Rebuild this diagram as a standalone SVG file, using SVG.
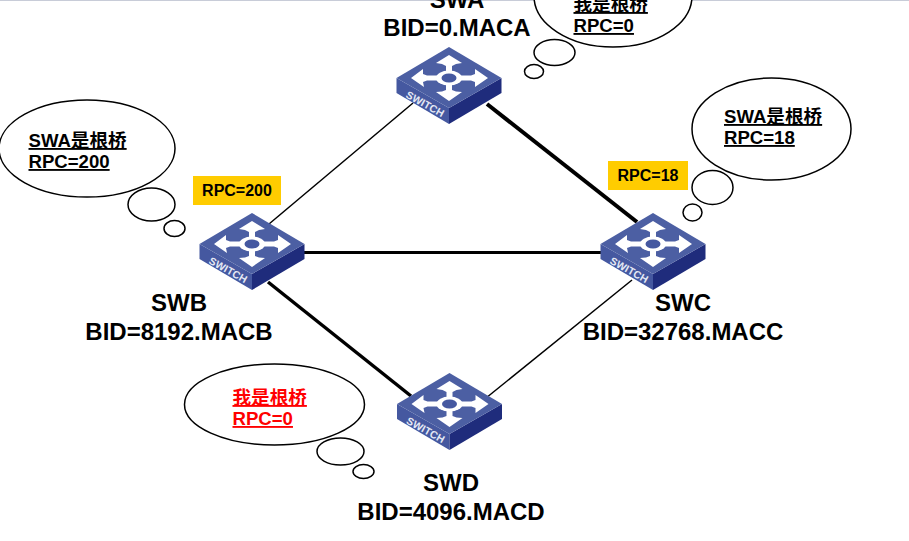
<svg xmlns="http://www.w3.org/2000/svg" xmlns:xlink="http://www.w3.org/1999/xlink" width="909" height="541" viewBox="0 0 909 541">
<style>
text{font-family:"Liberation Sans","Noto Sans CJK SC",sans-serif;font-weight:bold;fill:#000}
.name{font-size:24px;text-anchor:middle}
.say{font-size:18.6px;text-decoration:underline}
.red{fill:#f00}
.rpc{font-size:16px;text-anchor:middle}
.b{fill:#fff;stroke:#000;stroke-width:1.5}
.thin{stroke:#000;stroke-width:1.5;fill:none}
.thick{stroke:#000;stroke-width:3.5;fill:none}
.tag{fill:#ffcc00}
.sw{font-size:10.5px;fill:#e4e8f4;font-weight:bold}
</style>
<defs>
<g id="switch">
<polygon points="-52.500,0 0,30 0,46 -52.500,15" fill="#4558a0"/>
<polygon points="52.500,0 0,30 0,46 52.500,15" fill="#1f2c7c"/>
<polygon points="0,-31 52.500,0 0,30 -52.500,0" fill="#4c5fa3"/>
<g fill="#fff">
<ellipse cx="0" cy="0" rx="13" ry="7.500"/>
<polygon points="0,-23 13,-15 7,-14 3,-12 3,-6 -3,-6 -3,-12 -7,-14 -13,-15"/>
<polygon points="0,23 13,14 7,13.500 3,12 3,6 -3,6 -3,12 -7,13.500 -13,14"/>
<polygon points="-38,0 -26,-9 -26,-4 -22,-2.500 -10,-2.500 -10,2.500 -22,2.500 -26,4 -25,9"/>
<polygon points="39,0 26,-9 26,-4 22,-2.500 10,-2.500 10,2.500 22,2.500 26,4 26,9"/>
</g>
<ellipse cx="0" cy="0" rx="7.500" ry="4.500" fill="#4558a0"/>
<text class="sw" transform="translate(-44,19) rotate(29)" textLength="42">SWITCH</text>
</g>
</defs>
<rect x="0" y="0" width="909" height="541" fill="#fff"/>
<rect x="0" y="0" width="909" height="1" fill="#c8ccd8"/>
<g id="connectors">
<line class="thin" x1="269" y1="224" x2="413" y2="103"/>
<line class="thick" x1="487" y1="104" x2="637" y2="222" style="stroke-width:4"/>
<line class="thick" x1="303" y1="252.500" x2="603" y2="252.500" style="stroke-width:3"/>
<line class="thick" x1="268" y1="282" x2="411" y2="396"/>
<line class="thin" x1="632" y1="280" x2="486" y2="398"/>
</g>
<g id="SWA">
<use xlink:href="#switch" href="#switch" transform="translate(449,78)"/>
<text class="name" x="457" y="8">SWA</text>
<text class="name" x="457" y="36">BID=0.MACA</text>
</g>
<g id="SWB">
<use xlink:href="#switch" href="#switch" transform="translate(252,244)"/>
<text class="name" x="179" y="311">SWB</text>
<text class="name" x="179" y="340">BID=8192.MACB</text>
</g>
<g id="SWC">
<use xlink:href="#switch" href="#switch" transform="translate(653,244)"/>
<text class="name" x="683" y="311">SWC</text>
<text class="name" x="683" y="340">BID=32768.MACC</text>
</g>
<g id="SWD">
<use xlink:href="#switch" href="#switch" transform="translate(449.500,404)"/>
<text class="name" x="451" y="491">SWD</text>
<text class="name" x="451" y="520">BID=4096.MACD</text>
</g>
<g id="bubble-a">
<ellipse class="b" cx="613" cy="-4" rx="79" ry="51"/>
<ellipse class="b" cx="554.500" cy="52.500" rx="20.500" ry="13"/>
<ellipse class="b" cx="534" cy="71.500" rx="9.500" ry="7"/>
<text class="say" x="573.500" y="11">我是根桥</text>
<text class="say" x="573.500" y="32">RPC=0</text>
</g>
<g id="bubble-b">
<ellipse class="b" cx="87" cy="148.500" rx="88" ry="48.500"/>
<ellipse class="b" cx="151.500" cy="204.500" rx="23.500" ry="16.500"/>
<ellipse class="b" cx="174.500" cy="228.500" rx="10.500" ry="8"/>
<text class="say" x="28.500" y="147">SWA是根桥</text>
<text class="say" x="28.500" y="168">RPC=200</text>
</g>
<g id="bubble-c">
<ellipse class="b" cx="771.500" cy="129" rx="79.500" ry="51"/>
<ellipse class="b" cx="712.500" cy="187.500" rx="20.500" ry="17"/>
<ellipse class="b" cx="692.500" cy="212.500" rx="9.500" ry="8.500"/>
<text class="say" x="724" y="123">SWA是根桥</text>
<text class="say" x="724" y="144">RPC=18</text>
</g>
<g id="bubble-d">
<ellipse class="b" cx="274.500" cy="404.500" rx="90" ry="40.500"/>
<ellipse class="b" cx="340.500" cy="451.500" rx="23.500" ry="13.500"/>
<ellipse class="b" cx="363.500" cy="471.500" rx="10.500" ry="7"/>
<text class="say red" x="232.500" y="404">我是根桥</text>
<text class="say red" x="232.500" y="425">RPC=0</text>
</g>
<g id="tag-b">
<rect class="tag" x="193" y="176" width="88" height="29"/>
<text class="rpc" x="237" y="196">RPC=200</text>
</g>
<g id="tag-c">
<rect class="tag" x="608" y="161" width="80" height="29"/>
<text class="rpc" x="648" y="181">RPC=18</text>
</g>
</svg>
